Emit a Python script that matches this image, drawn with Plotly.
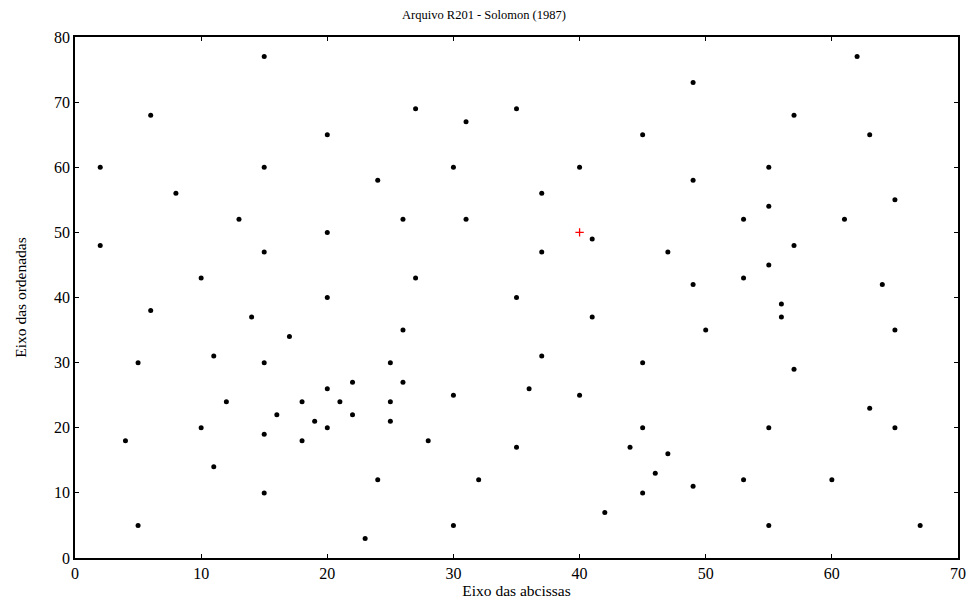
import plotly.graph_objects as go

x_vals = [41,35,55,55,15,25,20,10,55,30,20,50,30,15,30,10,5,20,15,45,45,45,55,65,65,45,35,41,64,40,
          31,35,53,65,63,2,20,5,60,40,42,24,23,11,6,2,8,13,6,47,49,27,37,57,63,53,32,36,21,17,
          12,24,27,15,62,49,67,56,37,37,57,47,44,46,49,49,53,61,57,56,55,15,14,11,16,4,28,26,26,31,
          15,22,18,26,25,22,25,19,20,18]
y_vals = [49,17,45,20,30,30,50,43,60,60,65,35,25,10,5,20,30,40,60,65,20,10,5,35,20,30,40,37,42,60,
          52,69,52,55,65,60,20,5,12,25,7,12,3,14,38,48,56,52,68,47,58,43,31,29,23,12,12,26,24,34,
          24,58,69,77,77,73,5,39,47,56,68,16,17,13,11,42,43,52,48,37,54,47,37,31,22,18,18,52,35,67,
          19,22,24,27,24,27,21,21,26,18]
depot_x = [40]
depot_y = [50]

x_ticks = [0,10,20,30,40,50,60,70]
y_ticks = [0,10,20,30,40,50,60,70,80]

font = "Liberation Serif"

fig = go.Figure()
fig.add_trace(go.Scatter(x=x_vals, y=y_vals, mode="markers",
                         marker=dict(color="black", size=5, symbol="circle"),
                         showlegend=False, cliponaxis=False))
fig.add_trace(go.Scatter(x=depot_x, y=depot_y, mode="markers",
                         marker=dict(color="#ff0000", size=6, symbol="cross-thin",
                                     line=dict(color="#ff0000", width=1.3)),
                         showlegend=False))

axis_common = dict(showgrid=False, zeroline=False, showline=True, linecolor="black",
                   linewidth=1.5, mirror="ticks", ticks="inside", ticklen=4,
                   tickwidth=1, tickcolor="black", automargin=False,
                   tickfont=dict(family=font, size=16, color="black"))

fig.update_layout(
    width=968, height=603,
    margin=dict(l=75, r=10, t=37, b=45, autoexpand=False),
    paper_bgcolor="white", plot_bgcolor="white",
    title=dict(text="Arquivo R201 - Solomon (1987)", x=0.5, xanchor="center",
               y=0.975, yanchor="middle",
               font=dict(family=font, size=12.5, color="black")),
    xaxis=dict(range=[0,70], tickvals=x_ticks,
               title=dict(text="Eixo das abcissas", font=dict(family=font, size=15.5, color="black"), standoff=4),
               **axis_common),
    yaxis=dict(range=[0,80], tickvals=y_ticks,
               title=dict(text="Eixo das ordenadas", font=dict(family=font, size=15.5, color="black"), standoff=24),
               **axis_common),
)

fig.write_html("out.html")
